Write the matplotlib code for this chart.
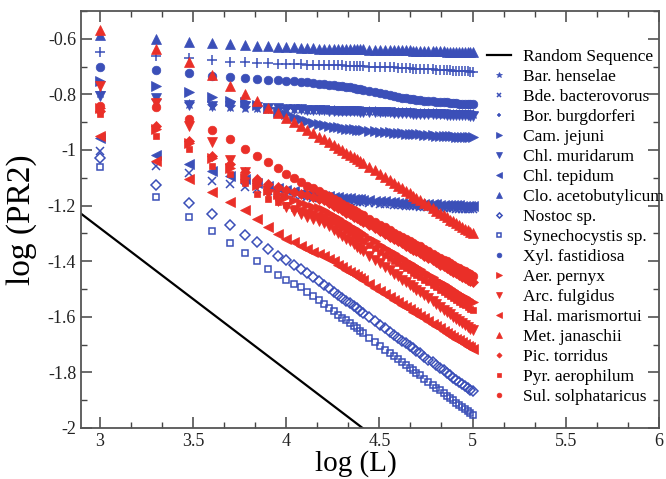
import numpy as np
import matplotlib
matplotlib.use('Agg')
import matplotlib.pyplot as plt
from matplotlib.ticker import MultipleLocator, FuncFormatter

plt.rcParams['font.family'] = ['Liberation Serif', 'DejaVu Serif']
plt.rcParams['axes.unicode_minus'] = False

# sequence length in thousands (the sampled L values)
K = list(range(1, 26)) + list(range(26, 51, 2)) + list(range(52, 101, 3))
log_L = np.log10(1000 * np.array(K))

random_x = [2.9, 4.41]
random_y = [-1.229, -2.0]

# blue: bacteria
bar = [-0.795, -0.825, -0.835, -0.842, -0.846, -0.848, -0.850, -0.851, -0.852, -0.853, -0.854, -0.854, -0.855,
       -0.855, -0.856, -0.856, -0.857, -0.857, -0.858, -0.858, -0.858, -0.859, -0.859, -0.860, -0.860,
       -0.860, -0.861, -0.861, -0.862, -0.863, -0.863, -0.864, -0.864, -0.864, -0.865, -0.865, -0.866, -0.866,
       -0.866, -0.867, -0.867, -0.868, -0.868, -0.869, -0.869, -0.869, -0.870, -0.870, -0.870, -0.871, -0.871,
       -0.871, -0.872, -0.872, -0.872]
bde = [-1.002, -1.059, -1.082, -1.110, -1.123, -1.133, -1.142, -1.149, -1.154, -1.158, -1.162, -1.165, -1.168,
       -1.171, -1.173, -1.175, -1.177, -1.178, -1.180, -1.181, -1.182, -1.184, -1.185, -1.186, -1.187,
       -1.188, -1.190, -1.191, -1.193, -1.194, -1.196, -1.197, -1.198, -1.199, -1.200, -1.201, -1.202, -1.203,
       -1.204, -1.205, -1.206, -1.207, -1.207, -1.208, -1.209, -1.209, -1.210, -1.210, -1.211, -1.211, -1.212,
       -1.212, -1.212, -1.213, -1.213]
bor = [-0.646, -0.661, -0.668, -0.677, -0.682, -0.684, -0.686, -0.688, -0.689, -0.690, -0.691, -0.692, -0.693,
       -0.693, -0.694, -0.694, -0.695, -0.695, -0.696, -0.696, -0.697, -0.697, -0.698, -0.698, -0.699,
       -0.699, -0.700, -0.700, -0.701, -0.702, -0.703, -0.703, -0.704, -0.705, -0.705, -0.706, -0.707, -0.707,
       -0.708, -0.709, -0.710, -0.710, -0.711, -0.712, -0.713, -0.713, -0.714, -0.715, -0.715, -0.716, -0.716,
       -0.717, -0.717, -0.718, -0.718]
cam = [-0.750, -0.770, -0.790, -0.810, -0.822, -0.828, -0.838, -0.850, -0.862, -0.872, -0.880, -0.890, -0.896,
       -0.902, -0.907, -0.911, -0.914, -0.917, -0.919, -0.921, -0.923, -0.924, -0.926, -0.927, -0.928,
       -0.929, -0.931, -0.933, -0.934, -0.936, -0.937, -0.938, -0.939, -0.940, -0.941, -0.942, -0.943, -0.944,
       -0.944, -0.945, -0.946, -0.947, -0.948, -0.948, -0.949, -0.950, -0.950, -0.951, -0.952, -0.952, -0.953,
       -0.953, -0.954, -0.954, -0.954]
chl_mur = [-0.805, -0.812, -0.837, -0.843, -0.840, -0.843, -0.846, -0.848, -0.850, -0.851, -0.852, -0.854, -0.855,
           -0.856, -0.857, -0.857, -0.858, -0.858, -0.859, -0.859, -0.860, -0.860, -0.861, -0.861, -0.862,
           -0.862, -0.863, -0.864, -0.864, -0.865, -0.865, -0.866, -0.867, -0.867, -0.868, -0.868, -0.869, -0.869,
           -0.869, -0.870, -0.870, -0.871, -0.871, -0.872, -0.872, -0.873, -0.873, -0.874, -0.874, -0.874, -0.875,
           -0.875, -0.875, -0.876, -0.876]
chl_tep = [-0.957, -1.017, -1.050, -1.074, -1.092, -1.104, -1.118, -1.128, -1.137, -1.144, -1.149, -1.153, -1.157,
           -1.160, -1.163, -1.165, -1.167, -1.169, -1.170, -1.172, -1.173, -1.174, -1.175, -1.177, -1.178,
           -1.179, -1.180, -1.182, -1.184, -1.185, -1.187, -1.188, -1.189, -1.190, -1.191, -1.192, -1.193, -1.193,
           -1.194, -1.195, -1.195, -1.196, -1.196, -1.197, -1.197, -1.198, -1.198, -1.199, -1.199, -1.199, -1.200,
           -1.200, -1.200, -1.201, -1.201]
clo = [-0.585, -0.602, -0.611, -0.616, -0.620, -0.623, -0.625, -0.627, -0.629, -0.630, -0.631, -0.632, -0.633,
       -0.634, -0.635, -0.635, -0.635, -0.636, -0.636, -0.637, -0.637, -0.637, -0.638, -0.638, -0.638,
       -0.638, -0.639, -0.639, -0.640, -0.640, -0.641, -0.641, -0.641, -0.642, -0.642, -0.642, -0.643, -0.643,
       -0.643, -0.644, -0.644, -0.644, -0.645, -0.645, -0.645, -0.646, -0.646, -0.646, -0.647, -0.647, -0.647,
       -0.647, -0.648, -0.648, -0.648]
nostoc = [-1.028, -1.126, -1.190, -1.231, -1.271, -1.304, -1.331, -1.356, -1.380, -1.397, -1.414, -1.427, -1.443,
          -1.458, -1.472, -1.485, -1.497, -1.510, -1.521, -1.532, -1.542, -1.551, -1.561, -1.570, -1.578,
          -1.586, -1.602, -1.616, -1.630, -1.642, -1.654, -1.666, -1.676, -1.687, -1.696, -1.706, -1.714, -1.723,
          -1.731, -1.743, -1.754, -1.764, -1.775, -1.784, -1.793, -1.802, -1.811, -1.819, -1.827, -1.834, -1.841,
          -1.848, -1.855, -1.862, -1.868]
syn = [-1.060, -1.169, -1.241, -1.292, -1.334, -1.372, -1.400, -1.427, -1.451, -1.469, -1.482, -1.493, -1.509,
       -1.525, -1.540, -1.554, -1.567, -1.580, -1.592, -1.603, -1.613, -1.623, -1.633, -1.642, -1.651,
       -1.660, -1.676, -1.691, -1.705, -1.718, -1.730, -1.742, -1.753, -1.764, -1.774, -1.784, -1.793, -1.802,
       -1.810, -1.822, -1.834, -1.845, -1.855, -1.865, -1.875, -1.884, -1.893, -1.901, -1.909, -1.917, -1.924,
       -1.932, -1.939, -1.946, -1.952]
xyl = [-0.700, -0.714, -0.722, -0.734, -0.738, -0.741, -0.744, -0.747, -0.749, -0.751, -0.753, -0.755, -0.757,
       -0.759, -0.761, -0.763, -0.765, -0.767, -0.769, -0.771, -0.773, -0.775, -0.777, -0.779, -0.781,
       -0.783, -0.787, -0.791, -0.795, -0.799, -0.802, -0.806, -0.809, -0.812, -0.814, -0.816, -0.818, -0.820,
       -0.821, -0.823, -0.824, -0.825, -0.826, -0.827, -0.828, -0.829, -0.830, -0.831, -0.832, -0.833, -0.833,
       -0.834, -0.835, -0.835, -0.836]

# red: archaea
aer = [-0.850, -0.925, -0.975, -1.030, -1.065, -1.100, -1.125, -1.145, -1.158, -1.170, -1.180, -1.190, -1.198,
       -1.204, -1.210, -1.215, -1.226, -1.236, -1.246, -1.255, -1.264, -1.273, -1.281, -1.288, -1.296,
       -1.303, -1.316, -1.329, -1.341, -1.351, -1.362, -1.372, -1.381, -1.390, -1.398, -1.406, -1.414, -1.421,
       -1.429, -1.439, -1.448, -1.457, -1.466, -1.474, -1.482, -1.490, -1.497, -1.504, -1.511, -1.517, -1.524,
       -1.530, -1.536, -1.542, -1.547]
arc = [-0.768, -0.830, -0.915, -0.970, -1.035, -1.080, -1.125, -1.160, -1.185, -1.205, -1.218, -1.230, -1.240,
       -1.249, -1.256, -1.262, -1.275, -1.287, -1.298, -1.309, -1.319, -1.329, -1.339, -1.348, -1.356,
       -1.365, -1.380, -1.395, -1.408, -1.421, -1.433, -1.445, -1.455, -1.466, -1.475, -1.485, -1.494, -1.503,
       -1.511, -1.522, -1.534, -1.544, -1.555, -1.564, -1.574, -1.582, -1.591, -1.599, -1.607, -1.614, -1.622,
       -1.629, -1.636, -1.643, -1.649]
hal = [-0.948, -1.038, -1.104, -1.150, -1.188, -1.217, -1.248, -1.278, -1.302, -1.320, -1.331, -1.344, -1.356,
       -1.366, -1.374, -1.380, -1.391, -1.401, -1.412, -1.421, -1.430, -1.438, -1.447, -1.454, -1.462,
       -1.469, -1.482, -1.495, -1.507, -1.518, -1.528, -1.538, -1.548, -1.556, -1.565, -1.573, -1.581, -1.588,
       -1.596, -1.606, -1.615, -1.625, -1.633, -1.642, -1.650, -1.657, -1.665, -1.672, -1.679, -1.685, -1.692,
       -1.698, -1.704, -1.710, -1.715]
met = [-0.570, -0.636, -0.684, -0.732, -0.768, -0.798, -0.822, -0.849, -0.868, -0.885, -0.900, -0.915, -0.928,
       -0.940, -0.952, -0.962, -0.972, -0.982, -0.992, -1.000, -1.009, -1.017, -1.025, -1.032, -1.039,
       -1.047, -1.060, -1.073, -1.085, -1.097, -1.108, -1.119, -1.129, -1.138, -1.147, -1.156, -1.164, -1.172,
       -1.179, -1.189, -1.199, -1.209, -1.218, -1.226, -1.234, -1.242, -1.250, -1.257, -1.264, -1.270, -1.277,
       -1.283, -1.289, -1.295, -1.300]
pic = [-0.860, -0.915, -0.966, -1.020, -1.050, -1.080, -1.104, -1.122, -1.134, -1.143, -1.150, -1.157, -1.163,
       -1.169, -1.175, -1.181, -1.191, -1.200, -1.209, -1.217, -1.225, -1.232, -1.240, -1.246, -1.253,
       -1.259, -1.271, -1.282, -1.293, -1.302, -1.312, -1.321, -1.329, -1.336, -1.344, -1.351, -1.358, -1.365,
       -1.371, -1.380, -1.388, -1.397, -1.404, -1.412, -1.419, -1.425, -1.432, -1.438, -1.444, -1.450, -1.456,
       -1.461, -1.466, -1.471, -1.476]
pyr = [-0.870, -0.948, -0.996, -1.056, -1.086, -1.120, -1.158, -1.175, -1.187, -1.199, -1.208, -1.215, -1.222,
       -1.228, -1.233, -1.237, -1.248, -1.259, -1.269, -1.278, -1.287, -1.296, -1.304, -1.312, -1.320,
       -1.327, -1.341, -1.354, -1.366, -1.377, -1.387, -1.398, -1.407, -1.416, -1.424, -1.433, -1.441, -1.448,
       -1.456, -1.466, -1.476, -1.485, -1.494, -1.503, -1.511, -1.518, -1.526, -1.533, -1.540, -1.547, -1.553,
       -1.559, -1.565, -1.571, -1.577]
sul = [-0.840, -0.845, -0.888, -0.928, -0.962, -0.996, -1.020, -1.044, -1.065, -1.086, -1.100, -1.115, -1.128,
       -1.138, -1.148, -1.157, -1.167, -1.176, -1.185, -1.193, -1.201, -1.208, -1.216, -1.222, -1.229,
       -1.235, -1.247, -1.258, -1.269, -1.278, -1.288, -1.297, -1.305, -1.312, -1.320, -1.327, -1.334, -1.341,
       -1.347, -1.356, -1.364, -1.373, -1.380, -1.388, -1.395, -1.401, -1.408, -1.414, -1.420, -1.426, -1.432,
       -1.437, -1.442, -1.447, -1.452]

BLUE = '#3b4fb8'
RED = '#ea2f28'

series = [
    ('Bar. henselae', bar, '*', BLUE, True),
    ('Bde. bacterovorus', bde, 'x', BLUE, True),
    ('Bor. burgdorferi', bor, '+', BLUE, True),
    ('Cam. jejuni', cam, '>', BLUE, True),
    ('Chl. muridarum', chl_mur, 'v', BLUE, True),
    ('Chl. tepidum', chl_tep, '<', BLUE, True),
    ('Clo. acetobutylicum', clo, '^', BLUE, True),
    ('Nostoc sp.', nostoc, 'D', BLUE, False),
    ('Synechocystis sp.', syn, 's', BLUE, False),
    ('Xyl. fastidiosa', xyl, 'o', BLUE, True),
    ('Aer. pernyx', aer, '>', RED, True),
    ('Arc. fulgidus', arc, 'v', RED, True),
    ('Hal. marismortui', hal, '<', RED, True),
    ('Met. janaschii', met, '^', RED, True),
    ('Pic. torridus', pic, 'D', RED, True),
    ('Pyr. aerophilum', pyr, 's', RED, True),
    ('Sul. solphataricus', sul, 'o', RED, True),
]

marker_size = {'D': 4.8, 's': 5.0, 'x': 5.5, '+': 6.5, '*': 7.5, 'o': 6.2}

fig = plt.figure(figsize=(6.66, 4.79), dpi=100)
ax = fig.add_axes([81 / 666, 1 - 428 / 479, 578 / 666, 417 / 479])

ax.plot(random_x, random_y, color='black', lw=1.6, label='Random Sequence')

for name, vals, mk, col, filled in series:
    ms = marker_size.get(mk, 6.8)
    ax.plot(log_L, vals, linestyle='none', marker=mk, ms=ms, color=col,
            markerfacecolor=col if filled else 'none',
            markeredgewidth=1.1 if (not filled or mk in ('x', '+')) else 0.5,
            label=name)

ax.set_xlim(2.9, 6.0)
ax.set_ylim(-2.0, -0.5)
ax.xaxis.set_major_locator(MultipleLocator(0.5))
ax.xaxis.set_minor_locator(MultipleLocator(0.5 / 3))
ax.yaxis.set_major_locator(MultipleLocator(0.2))
ax.yaxis.set_minor_locator(MultipleLocator(0.1))
fmt = FuncFormatter(lambda v, p: '%g' % round(v, 2))
ax.xaxis.set_major_formatter(fmt)
ax.yaxis.set_major_formatter(fmt)

ax.tick_params(which='both', direction='in', top=True, right=True, colors='#444444',
               labelcolor='#222222', labelsize=13)
ax.tick_params(which='major', length=8, width=1.1)
ax.tick_params(which='minor', length=4.5, width=1.0)
for s in ax.spines.values():
    s.set_color('#555555')
    s.set_linewidth(1.3)

ax.set_xlabel('log (L)', fontsize=21)
ax.set_ylabel('log (PR2)', fontsize=24, labelpad=8)
ax.xaxis.set_label_coords(0.476, -0.053)

leg = ax.legend(loc='upper left', bbox_to_anchor=(487 / 666, 1 - 49 / 479),
                bbox_transform=fig.transFigure, frameon=False, fontsize=12.5,
                numpoints=1, markerscale=0.55, handlelength=1.4, handletextpad=0.7,
                labelspacing=0.22, borderpad=0, borderaxespad=0)

fig.savefig('out.png', dpi=100)
